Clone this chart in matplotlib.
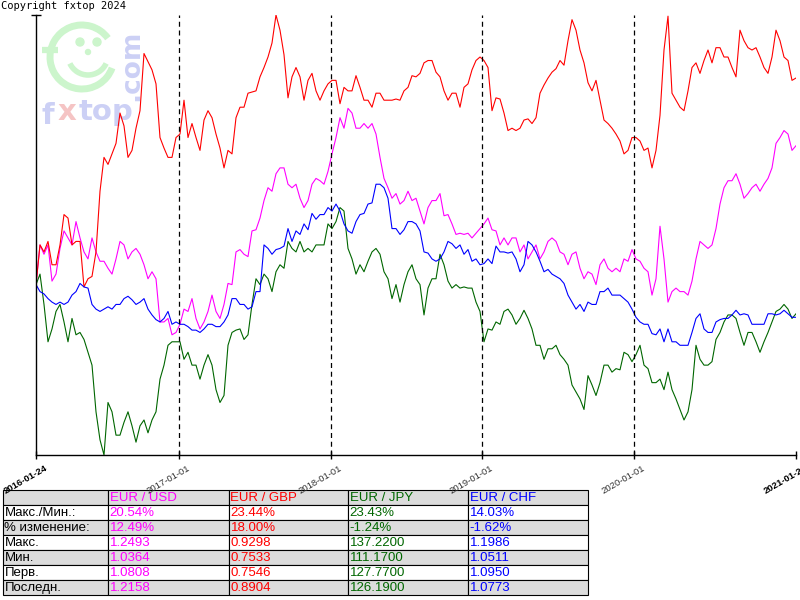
import pandas as pd
import matplotlib
matplotlib.use("Agg")
import matplotlib.pyplot as plt
import matplotlib.transforms as mtransforms
from matplotlib.patches import Rectangle, Arc, Circle

# period shown on the chart
start_date = "2016-01-24"
end_date = "2021-01-24"
year_marks = ["2017-01-01", "2018-01-01", "2019-01-01", "2020-01-01"]

# % change against the first quote (one point every ~10 days)
eur_usd = [0.0, 3.4, 2.6, 3.4, 0.3, 0.9, 3.1, 4.6, 4.0, 3.4, 5.4, 4.0, 2.8, 2.2, 4.0, 2.8, 2.0, 2.0, 1.4, 0.9,
           2.2, 3.7, 3.4, 2.2, 2.8, 3.1, 2.6, 1.7, 0.5, 1.1, 0.5, -3.2, -3.2, -2.9, -4.3, -4.1, -3.4, -2.1, -2.3, -1.2,
           -2.9, -3.8, -3.2, -2.3, -0.9, -2.3, -2.9, -1.7, 0.1, 0.0, 2.8, 3.0, 2.6, 2.4, 4.6, 4.7, 5.7, 7.2, 8.3, 8.0,
           9.5, 10.0, 10.0, 8.6, 8.3, 8.6, 7.4, 6.6, 7.2, 8.6, 9.1, 8.9, 8.6, 9.7, 11.2, 12.6, 14.3, 13.4, 15.1, 14.7,
           13.4, 13.4, 13.8, 13.4, 13.8, 12.9, 10.9, 9.1, 8.3, 7.4, 7.8, 6.9, 7.2, 8.0, 7.2, 7.4, 6.3, 5.2, 6.6, 7.2,
           7.2, 7.8, 5.9, 6.0, 5.2, 4.3, 4.4, 4.3, 4.4, 4.0, 4.4, 4.8, 5.2, 5.7, 4.7, 4.6, 3.4, 4.0, 3.4, 4.0,
           4.0, 2.8, 3.4, 2.2, 2.8, 3.4, 2.2, 2.8, 3.7, 4.0, 3.7, 2.8, 2.6, 1.7, 2.6, 2.8, 1.4, 0.5, 1.1, 0.9,
           0.0, 1.7, 2.2, 1.4, 1.1, 1.4, 1.1, 2.2, 2.0, 3.0, 2.2, 2.0, 1.4, 1.1, -0.9, 0.5, 5.0, 2.2, -1.5, -0.6,
           -0.3, -0.6, -0.6, -0.9, 0.3, 2.2, 3.7, 3.4, 3.1, 3.4, 4.8, 6.9, 8.3, 8.9, 8.9, 9.5, 8.6, 7.4, 7.8, 8.3,
           8.6, 8.0, 8.6, 9.1, 10.0, 12.1, 12.6, 13.2, 12.9, 11.5, 11.9]
eur_gbp = [0.0, 3.4, 2.8, 3.7, 1.7, 1.7, 3.4, 6.0, 5.7, 3.4, 3.7, 3.7, -0.2, 0.5, 0.7, 2.8, 8.0, 10.9, 10.3, 11.2,
           12.1, 14.7, 13.6, 10.9, 11.5, 13.4, 14.9, 19.8, 19.1, 18.4, 17.2, 12.6, 11.7, 10.9, 10.9, 12.6, 12.9, 15.8, 12.6, 13.8,
           12.6, 11.5, 14.1, 14.9, 14.3, 12.9, 11.7, 10.0, 11.5, 11.2, 14.3, 15.2, 15.2, 16.4, 16.5, 16.6, 17.8, 18.6, 19.5, 20.7,
           23.1, 21.8, 19.7, 16.0, 17.8, 18.6, 17.8, 15.8, 17.5, 18.1, 16.6, 15.8, 16.6, 17.2, 17.5, 17.5, 15.5, 16.9, 16.6, 16.6,
           17.9, 16.9, 15.8, 15.8, 15.2, 16.4, 16.4, 15.8, 15.8, 15.8, 15.9, 15.8, 16.6, 16.9, 17.9, 17.8, 18.1, 19.0, 19.2, 19.2,
           18.2, 17.8, 16.6, 15.8, 16.4, 16.4, 15.2, 16.9, 17.2, 18.4, 19.2, 19.5, 19.2, 18.6, 14.9, 16.0, 15.9, 14.7, 13.2, 13.4,
           13.2, 13.4, 14.1, 14.2, 13.8, 14.3, 16.4, 17.1, 17.7, 18.2, 18.5, 19.2, 18.8, 20.9, 22.7, 21.8, 20.1, 19.0, 17.3, 16.6,
           17.5, 15.8, 14.1, 13.8, 13.4, 12.9, 12.3, 11.2, 11.5, 12.6, 12.6, 12.3, 11.5, 11.7, 10.0, 11.5, 14.5, 20.1, 23.0, 16.4,
           15.8, 15.2, 14.9, 16.6, 18.6, 19.0, 18.1, 19.2, 20.1, 19.0, 20.3, 20.3, 19.5, 19.5, 18.6, 17.8, 21.8, 20.9, 20.3, 20.1,
           20.3, 19.5, 18.6, 18.1, 19.5, 21.8, 20.9, 19.5, 19.2, 17.5, 17.7]
eur_jpy = [0.0, 0.9, -1.7, -4.9, -3.8, -2.3, -1.7, -3.2, -4.9, -2.9, -4.3, -4.1, -4.7, -5.8, -6.9, -10.9, -13.3, -14.6, -10.1, -10.9,
           -12.9, -12.9, -11.8, -10.9, -12.1, -13.5, -12.1, -11.6, -12.7, -11.6, -10.9, -8.1, -6.9, -5.2, -4.9, -4.9, -4.9, -6.4, -5.8, -6.9,
           -6.9, -8.1, -6.9, -6.0, -6.9, -9.0, -10.1, -9.5, -5.2, -4.1, -3.9, -3.8, -4.7, -4.3, -1.7, 0.5, 0.0, 0.9, 0.5, -0.6,
           1.1, 1.7, 1.4, 3.7, 3.1, 2.8, 3.7, 2.8, 3.1, 2.8, 3.4, 3.4, 3.4, 5.2, 4.8, 5.4, 6.6, 6.3, 3.1, 2.2,
           0.9, 1.7, 1.1, 2.0, 2.8, 3.1, 2.6, 1.1, 0.5, -1.2, 0.0, -1.5, 0.0, 1.1, 1.7, 0.5, 0.0, -2.6, -0.3, 0.5,
           0.5, 2.6, 1.7, 0.3, -0.3, 0.0, -0.3, -0.2, -0.3, -0.3, -1.5, -2.3, -4.9, -3.8, -3.9, -3.2, -3.4, -2.3, -2.1, -2.6,
           -3.4, -2.9, -2.2, -2.9, -3.8, -5.2, -5.2, -6.4, -5.5, -5.5, -5.2, -6.0, -6.4, -6.9, -8.6, -9.2, -9.8, -10.7, -7.8, -8.6,
           -9.5, -8.4, -6.9, -6.9, -7.5, -7.2, -7.3, -5.8, -6.0, -6.6, -6.0, -5.2, -6.9, -7.2, -8.4, -8.4, -8.1, -9.0, -7.5, -9.0,
           -9.8, -10.7, -11.6, -10.9, -9.0, -5.2, -6.4, -6.9, -6.9, -6.6, -4.7, -4.1, -3.2, -2.6, -2.6, -2.9, -4.1, -5.2, -4.1, -4.1,
           -4.9, -5.8, -4.9, -4.1, -3.2, -2.3, -2.1, -1.7, -2.1, -2.9, -2.5]
eur_chf = [0.0, -0.6, -0.8, -1.2, -1.5, -1.7, -1.5, -1.7, -1.5, -0.9, -0.6, 0.1, -0.2, -0.3, -1.7, -2.1, -2.3, -2.1, -1.9, -2.1,
           -1.7, -1.7, -1.2, -1.0, -1.3, -1.7, -1.5, -1.2, -2.1, -2.6, -3.0, -3.2, -2.9, -2.3, -3.4, -3.2, -3.4, -3.4, -3.6, -3.9,
           -3.9, -4.1, -3.8, -3.4, -3.4, -3.6, -3.6, -3.2, -2.6, -1.2, -1.2, -1.7, -1.7, -2.1, -1.9, -0.6, -0.6, 3.4, 3.1, 2.6,
           3.0, 3.1, 3.3, 4.8, 3.7, 4.6, 4.3, 5.2, 4.7, 6.1, 5.6, 6.0, 6.0, 6.6, 6.3, 6.9, 6.3, 5.2, 4.6, 4.4,
           5.4, 6.0, 6.1, 6.9, 7.0, 8.6, 8.6, 8.3, 7.4, 4.8, 4.8, 4.3, 4.7, 5.4, 5.4, 5.2, 4.6, 2.8, 2.7, 2.2,
           2.0, 2.2, 2.8, 3.7, 3.5, 3.1, 3.4, 2.6, 3.0, 2.0, 2.2, 1.7, 1.8, 2.2, 1.8, 3.3, 2.8, 2.8, 2.7, 2.8,
           2.2, 1.1, 1.7, 3.7, 3.4, 2.8, 2.0, 1.1, 1.3, 0.9, 0.7, 0.5, 0.1, -0.9, -1.5, -2.1, -1.7, -2.3, -1.5, -1.7,
           -1.7, -0.6, -0.6, -0.3, -0.9, -0.9, -0.9, -1.2, -1.5, -2.1, -2.8, -3.2, -3.4, -3.4, -4.2, -4.3, -3.8, -4.9, -3.8, -4.9,
           -4.9, -5.2, -5.2, -5.2, -4.1, -2.9, -2.5, -3.8, -4.1, -4.1, -3.2, -3.0, -2.9, -2.9, -2.6, -2.2, -2.6, -2.5, -2.6, -3.4,
           -3.4, -3.4, -3.4, -2.5, -2.5, -2.6, -2.5, -2.2, -2.5, -2.8, -2.8]

pairs = ["EUR / USD", "EUR / GBP", "EUR / JPY", "EUR / CHF"]
pair_colors = ["#ff00ff", "#ff0000", "#006600", "#0000ff"]

# stats table
row_labels = ["Макс./Мин.:", "% изменение:", "Макс.", "Мин.", "Перв.", "Последн."]
max_min_pct = [20.54, 23.44, 23.43, 14.03]
change_pct = [12.49, 18.00, -1.24, -1.62]
max_vals = [1.2493, 0.9298, 137.22, 1.1986]
min_vals = [1.0364, 0.7533, 111.17, 1.0511]
first_vals = [1.0808, 0.7546, 127.77, 1.0950]
last_vals = [1.2158, 0.8904, 126.19, 1.0773]

series = [eur_usd, eur_gbp, eur_jpy, eur_chf]
dates = pd.date_range(start_date, end_date, periods=len(eur_usd))

fig = plt.figure(figsize=(8, 6), dpi=100)

# background layer in pixel units: watermark + table
bg = fig.add_axes([0, 0, 1, 1], zorder=-1)
bg.set_xlim(0, 800)
bg.set_ylim(600, 0)
bg.axis("off")

green = "#ccf5cc"
blue_wm = "#ccd0f5"
bg.add_patch(Arc((82, 57), 64, 64, theta1=20, theta2=324, color=green, lw=5))
bg.plot([42, 58], [50, 50], color=green, lw=4.5, solid_capstyle="butt")
bg.add_patch(Circle((80, 42), 4, color=green))
bg.add_patch(Circle((97, 42), 4, color=green))
bg.add_patch(Circle((88, 52), 2.5, color=green))
bg.add_patch(Arc((88, 55), 40, 40, theta1=25, theta2=155, color=green, lw=4))
bg.text(41, 124, "f", color=blue_wm, fontsize=21, fontweight="bold", va="baseline")
bg.text(58, 120, "x", color="#f5c4c4", fontsize=21, fontweight="bold", va="baseline")
bg.text(79, 120, "top", color=blue_wm, fontsize=21, fontweight="bold", va="baseline")
bg.text(131, 101, ".com", color=blue_wm, fontsize=19, fontweight="bold", rotation=90,
        ha="center", va="bottom")

col_x = [3, 108, 229, 348, 468, 588]
row_top = 490
row_h = 15

cells = [[""] + pairs]
cells.append([row_labels[0]] + [f"{v:.2f}%" for v in max_min_pct])
cells.append([row_labels[1]] + [f"{v:.2f}%" for v in change_pct])
cells.append([row_labels[2]] + [f"{v:.4f}" for v in max_vals])
cells.append([row_labels[3]] + [f"{v:.4f}" for v in min_vals])
cells.append([row_labels[4]] + [f"{v:.4f}" for v in first_vals])
cells.append([row_labels[5]] + [f"{v:.4f}" for v in last_vals])

for r, row in enumerate(cells):
    y0 = row_top + r * row_h
    fill = "#dcdcdc" if r % 2 == 0 else "white"
    for c, txt in enumerate(row):
        bg.add_patch(Rectangle((col_x[c], y0), col_x[c + 1] - col_x[c], row_h,
                               facecolor=fill, edgecolor="black", lw=0.8))
        color = "black" if c == 0 else pair_colors[c - 1]
        bg.text(col_x[c] + 1.5, y0 + row_h / 2 + 0.5, txt, color=color, fontsize=9.5,
                family="Liberation Sans", ha="left", va="center")

fig.text(0.001, 0.999, "Copyright fxtop 2024", family="DejaVu Sans Mono", fontsize=7.5,
         va="top", ha="left")

# main chart
ax = fig.add_axes([36 / 800, 1 - 455 / 600, 760 / 800, 440 / 600], facecolor="none")
for vals, color in zip(series, pair_colors):
    ax.plot(dates, vals, color=color, lw=0.8)

for d in year_marks:
    ax.axvline(pd.Timestamp(d), color="black", lw=0.9, ls=(0, (4, 3)))

all_vals = eur_usd + eur_gbp + eur_jpy + eur_chf
ax.set_ylim(min(all_vals), max(all_vals))
ax.set_xlim(dates[0], dates[-1])

ax.spines["top"].set_visible(False)
ax.spines["right"].set_visible(False)
ax.spines["left"].set_linewidth(1)
ax.spines["bottom"].set_linewidth(1)

ax.set_yticks([max(all_vals)])
ax.set_yticklabels([])
ax.tick_params(axis="y", direction="inout", length=7, width=1)

tick_dates = [start_date] + year_marks + [end_date]
ax.set_xticks([pd.Timestamp(d) for d in tick_dates])
ax.set_xticklabels(tick_dates)
ax.tick_params(axis="x", direction="inout", length=6, width=1, pad=3)
shift = mtransforms.ScaledTranslation(8 / 100, 0, fig.dpi_scale_trans)
labels = ax.get_xticklabels()
for i, lab in enumerate(labels):
    lab.set_rotation(30)
    lab.set_ha("right")
    lab.set_va("top")
    lab.set_rotation_mode("anchor")
    lab.set_fontsize(6.8)
    lab.set_family("Liberation Sans")
    lab.set_transform(lab.get_transform() + shift)
    if i == 0 or i == len(labels) - 1:
        lab.set_fontweight("bold")
        lab.set_color("black")
    else:
        lab.set_color("#333333")

fig.savefig("out.png", dpi=100)
